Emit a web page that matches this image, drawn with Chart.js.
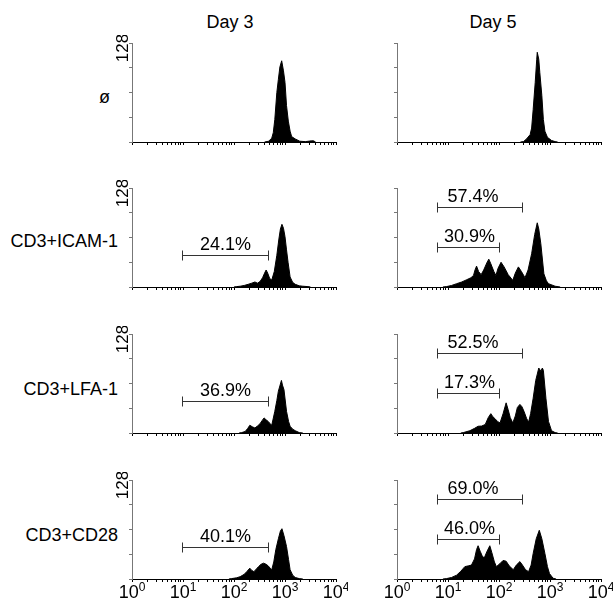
<!DOCTYPE html>
<html>
<head>
<meta charset="utf-8">
<script src="https://cdn.jsdelivr.net/npm/chart.js@4.4.0/dist/chart.umd.min.js"></script>
<style>
  body { margin: 0; background: #fff; }
  #fig { position: relative; width: 613px; height: 600px; overflow: hidden;
         font-family: "Liberation Sans", Arial, Helvetica, sans-serif; font-size: 18px; color: #000; }
  #fig canvas { position: absolute; }
  .lbl { position: absolute; white-space: nowrap; line-height: 22px; }
</style>
</head>
<body>
<div id="fig"></div>
<script>
// 文字
var dayLabels = ["Day 3", "Day 5"];
var rowLabels = ["ø", "CD3+ICAM-1", "CD3+LFA-1", "CD3+CD28"];
var decadeBase = "10";
var decadeExps = ["0", "1", "2", "3", "4"];
var yMaxLabel = "128";

// 直方图 [log10 荧光强度, 细胞数]
var d3Ctrl = [[2.60,0],[2.68,1],[2.74,5],[2.77,12],[2.80,29],[2.84,64],[2.87,81],[2.90,97],[2.935,105],[2.97,92],[3.00,77],[3.03,47],[3.065,27],[3.10,14],[3.13,7],[3.20,4],[3.29,1],[3.40,0.5],[3.52,1.5],[3.56,1.5],[3.60,0]];
var d3Icam = [[2.00,0],[2.05,0.5],[2.12,1],[2.20,2],[2.28,3.5],[2.35,5],[2.41,6.5],[2.46,5],[2.51,7],[2.56,12],[2.60,18],[2.63,22],[2.66,18],[2.70,11],[2.74,9],[2.79,20],[2.84,41],[2.88,62],[2.91,75],[2.94,81],[2.97,76],[3.00,65],[3.03,48],[3.06,32],[3.10,13],[3.15,6],[3.20,3.5],[3.28,1.5],[3.35,1],[3.45,0.5],[3.50,0]];
var d3Lfa = [[2.10,0],[2.15,0.5],[2.22,2],[2.27,6],[2.31,10],[2.36,8],[2.41,6.5],[2.46,9],[2.51,12],[2.55,16],[2.59,19.5],[2.63,17],[2.67,15],[2.71,12],[2.74,10],[2.80,28],[2.84,42],[2.87,54],[2.93,68],[2.95,62],[2.98,56],[3.03,28],[3.07,15],[3.10,8.7],[3.15,5],[3.20,3],[3.28,0.5],[3.35,0]];
var d3Cd28 = [[1.90,0],[1.95,0.5],[2.05,1.5],[2.12,3],[2.20,6],[2.25,9.5],[2.31,14],[2.35,11],[2.39,9.5],[2.44,13],[2.48,16],[2.53,19],[2.58,20.5],[2.63,19],[2.67,17],[2.71,14],[2.74,12],[2.78,22],[2.82,38],[2.87,52],[2.91,62],[2.94,65],[2.98,56],[3.03,42],[3.07,25],[3.10,12],[3.15,5],[3.20,2],[3.28,0.5],[3.35,0]];

var d5Ctrl = [[2.42,0],[2.48,0.5],[2.54,4],[2.61,9.5],[2.64,18],[2.67,42],[2.71,77],[2.74,107],[2.75,116],[2.78,107],[2.80,90],[2.84,60],[2.87,29],[2.90,14],[2.95,6],[3.03,2],[3.10,0.5],[3.15,0]];
var d5Icam = [[0.90,0],[0.97,0.5],[1.07,2],[1.17,4.3],[1.27,6.5],[1.37,9.5],[1.45,12],[1.50,15],[1.53,22],[1.56,27],[1.60,20],[1.65,16],[1.70,22],[1.76,31],[1.80,36],[1.84,30],[1.90,20],[1.94,15],[1.98,24],[2.04,32],[2.10,26],[2.18,16],[2.27,8.6],[2.32,18],[2.38,26],[2.44,20],[2.51,12],[2.57,22],[2.64,43],[2.70,68],[2.75,83],[2.78,75],[2.82,56],[2.88,17],[2.93,8],[2.97,4.3],[3.10,1],[3.20,0]];
var d5Lfa = [[1.25,0],[1.30,0.5],[1.43,3],[1.52,6],[1.59,8.7],[1.66,9],[1.73,11],[1.79,20],[1.84,25],[1.88,21],[1.92,18.6],[1.97,15],[2.02,13],[2.08,25],[2.14,39],[2.18,30],[2.22,20],[2.27,13],[2.32,22],[2.36,33],[2.41,37],[2.45,34],[2.49,28],[2.54,19],[2.58,14],[2.62,25],[2.67,45],[2.72,68],[2.78,84],[2.82,80],[2.85,84],[2.87,81],[2.92,45],[2.97,15],[3.03,3],[3.10,0.5],[3.15,0]];
var d5Cd28 = [[0.90,0],[0.97,0.5],[1.07,2],[1.17,5],[1.25,10],[1.33,16],[1.40,17],[1.46,18],[1.52,26],[1.56,38],[1.59,43],[1.63,36],[1.67,30],[1.71,27],[1.76,35],[1.82,43],[1.86,34],[1.91,22],[1.95,16],[2.02,20],[2.08,24],[2.14,23],[2.20,17],[2.28,12],[2.34,18],[2.41,22.5],[2.46,18],[2.52,12],[2.58,9.5],[2.63,18],[2.67,33],[2.73,52],[2.79,63],[2.84,52],[2.90,33],[2.95,16],[2.99,7],[3.06,1],[3.12,0]];

// 门 [起点, 终点, 高度(计数)]
var gateDay3 = [9.5, 457, 42];
var gateDay5Wide = [6.2, 288, 103];
var gateDay5Narrow = [6.2, 100, 52];
var pctDay3 = ["24.1%", "36.9%", "40.1%"];
var pctDay5Wide = ["57.4%", "52.5%", "69.0%"];
var pctDay5Narrow = ["30.9%", "17.3%", "46.0%"];

var histDay3 = [d3Ctrl, d3Icam, d3Lfa, d3Cd28];
var histDay5 = [d5Ctrl, d5Icam, d5Lfa, d5Cd28];

// 布局
var FONT = '"Liberation Sans", Arial, Helvetica, sans-serif';
var fig = document.getElementById("fig");
var rowBottom = [142, 287, 433, 579];
var colLeft = [132, 397];
var plotW = 204, plotH = 99;
var YW = 22, PT = 8, PR = 12;

function addText(txt, left, top, width, align) {
    var d = document.createElement("div");
    d.className = "lbl";
    d.textContent = txt;
    d.style.left = left + "px";
    d.style.top = top + "px";
    d.style.width = width + "px";
    d.style.textAlign = align;
    fig.appendChild(d);
}

addText(dayLabels[0], 180, 10.5, 100, "center");
addText(dayLabels[1], 443, 10.5, 100, "center");
var rowLabelY = [97, 241, 389, 535];
var rowLabelRight = [110, 118, 118, 118];
rowLabels.forEach(function (t, i) {
    addText(t, rowLabelRight[i] - 130, rowLabelY[i] - 11, 130, "right");
});

// x 轴刻度: 1..9, 10..90, ...
var xTickValues = [];
for (var e = 0; e < 4; e++) {
    for (var m = 1; m < 10; m++) xTickValues.push(m * Math.pow(10, e));
}
xTickValues.push(10000);

// 门, "128" 标签, 10^n 刻度文字
var panelText = {
    id: "panelText",
    afterDatasetsDraw: function (chart, args, opts) {
        var ctx = chart.ctx, x = chart.scales.x, y = chart.scales.y;
        ctx.save();
        ctx.font = "18px " + FONT;
        ctx.fillStyle = "#000";
        ctx.strokeStyle = "#333";
        ctx.lineWidth = 1;
        (opts.gates || []).forEach(function (g) {
            var x0 = Math.round(x.getPixelForValue(g.from)) + 0.5;
            var x1 = Math.round(x.getPixelForValue(g.to)) + 0.5;
            var yy = Math.round(y.getPixelForValue(g.at)) + 0.5;
            ctx.beginPath();
            ctx.moveTo(x0, yy); ctx.lineTo(x1, yy);
            ctx.moveTo(x0, yy - 5); ctx.lineTo(x0, yy + 5);
            ctx.moveTo(x1, yy - 5); ctx.lineTo(x1, yy + 5);
            ctx.stroke();
            ctx.textAlign = "center";
            ctx.textBaseline = "alphabetic";
            ctx.fillText(g.label, (x0 + x1) / 2 + (g.dx || 0), yy - 6);
        });
        if (opts.decades) {
            var base = y.getPixelForValue(0) + 19;
            ctx.textAlign = "left";
            ctx.textBaseline = "alphabetic";
            decadeExps.forEach(function (ex, k) {
                var px = x.getPixelForValue(Math.pow(10, k));
                ctx.font = "18px " + FONT;
                var w1 = ctx.measureText(decadeBase).width;
                ctx.font = "12px " + FONT;
                var w2 = ctx.measureText(ex).width;
                var start = px - (w1 + w2) / 2;
                ctx.font = "18px " + FONT;
                ctx.fillText(decadeBase, start, base);
                ctx.font = "12px " + FONT;
                ctx.fillText(ex, start + w1, base - 7);
            });
        }
        if (opts.showMax) {
            ctx.translate(chart.chartArea.left - 9, y.getPixelForValue(128) + 5);
            ctx.rotate(-Math.PI / 2);
            ctx.textAlign = "center";
            ctx.textBaseline = "middle";
            ctx.font = "17px " + FONT;
            ctx.fillText(yMaxLabel, 0, 0);
        }
        ctx.restore();
    }
};

function makePanel(r, c) {
    var isBottom = r === 3;
    var XH = isBottom ? 22 : 5;
    var canvas = document.createElement("canvas");
    canvas.width = YW + plotW + PR;
    canvas.height = PT + plotH + XH;
    canvas.style.left = (colLeft[c] - YW) + "px";
    canvas.style.top = (rowBottom[r] - plotH - PT) + "px";
    fig.appendChild(canvas);

    var hist = (c === 0 ? histDay3 : histDay5)[r];
    var gates = [];
    if (r > 0 && c === 0) {
        gates.push({ from: gateDay3[0], to: gateDay3[1], at: gateDay3[2], label: pctDay3[r - 1] });
    }
    if (r > 0 && c === 1) {
        gates.push({ from: gateDay5Wide[0], to: gateDay5Wide[1], at: gateDay5Wide[2], label: pctDay5Wide[r - 1], dx: -7 });
        gates.push({ from: gateDay5Narrow[0], to: gateDay5Narrow[1], at: gateDay5Narrow[2], label: pctDay5Narrow[r - 1], dx: 1 });
    }

    return new Chart(canvas, {
        type: "line",
        data: {
            datasets: [{
                data: hist.map(function (p) { return { x: Math.pow(10, p[0]), y: p[1] }; }),
                borderColor: "#000",
                backgroundColor: "#000",
                borderWidth: 1,
                pointRadius: 0,
                tension: 0,
                fill: "origin"
            }]
        },
        options: {
            responsive: false,
            animation: false,
            layout: { padding: { top: PT, right: PR, left: 0, bottom: 0 } },
            plugins: {
                legend: { display: false },
                tooltip: { enabled: false },
                panelText: { gates: gates, showMax: c === 0, decades: isBottom }
            },
            scales: {
                x: {
                    type: "logarithmic",
                    min: 1,
                    max: 10000,
                    border: { display: true, color: "#000", width: 1 },
                    grid: { drawOnChartArea: false, drawTicks: true, tickLength: 3, color: "#000" },
                    ticks: { display: false, autoSkip: false, maxRotation: 0 },
                    afterBuildTicks: function (s) {
                        s.ticks = xTickValues.map(function (v) { return { value: v }; });
                    },
                    afterFit: function (s) {
                        s.height = XH;
                        s.paddingLeft = 0;
                        s.paddingRight = 0;
                    }
                },
                y: {
                    min: 0,
                    max: 128,
                    border: { display: true, color: "#777", width: 1 },
                    grid: { drawOnChartArea: false, drawTicks: true, tickLength: 3, color: "#777" },
                    ticks: { display: false, stepSize: 32 },
                    afterFit: function (s) {
                        s.width = YW;
                        s.paddingTop = 0;
                        s.paddingBottom = 0;
                    }
                }
            }
        },
        plugins: [panelText]
    });
}

for (var r = 0; r < 4; r++) {
    for (var c = 0; c < 2; c++) makePanel(r, c);
}
</script>
</body>
</html>
